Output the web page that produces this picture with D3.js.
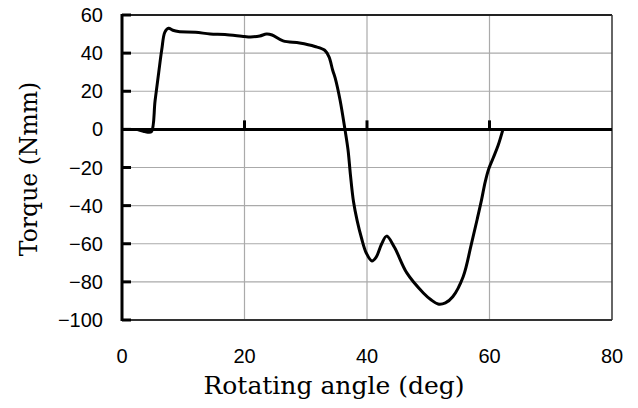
<!DOCTYPE html>
<html>
<head>
<meta charset="utf-8">
<script src="https://cdn.jsdelivr.net/npm/d3@7"></script>
<style>
  body { margin: 0; background: #fff; }
  svg { display: block; }
  .tick-label { font-family: "Liberation Sans", Arial, sans-serif; font-size: 20px; fill: #000; }
  .title { font-family: "DejaVu Serif", serif; font-size: 25px; fill: #000; }
</style>
</head>
<body>
<svg id="chart" width="638" height="408"></svg>
<script>
// torque curve
var angle = [2.4, 3.5, 4.2, 4.8, 5.4, 6.0, 6.5, 7.0, 7.6, 8.3, 9.2, 12, 14.4, 16.8, 20, 21, 22.5, 23.6, 24.5, 26.3, 29, 31.5, 33.1, 33.8, 34.4, 34.8, 35.6, 36.4, 36.9, 37.3, 37.8, 38.4, 39.1, 39.9, 40.8, 41.5, 42.4, 43.2, 44.5, 46.5, 49.2, 50.5, 51.6, 52.8, 54, 55.7, 57.0, 58.0, 58.7, 59.3, 59.9, 60.6, 61.4, 62.2];
var torque = [0, -1, -1.5, -1.2, 15, 30, 42, 51, 53, 52, 51.3, 51, 50, 49.8, 48.7, 48.5, 49, 50, 49.5, 46.4, 45.3, 43.5, 41.5, 38, 31, 27, 15.4, 0, -10.7, -24, -38, -48, -57, -65, -69, -67, -60, -56, -62, -75.3, -85.8, -89.5, -91.6, -91, -87.8, -77.3, -60.7, -47, -37, -27.5, -20.5, -15, -8.5, 0];

var xTicks = [0, 20, 40, 60, 80];
var yTicks = [60, 40, 20, 0, -20, -40, -60, -80, -100];

var svg = d3.select('#chart');
var mLeft = 122, mRight = 612, mTop = 15, mBottom = 320;

var x = d3.scaleLinear().domain([0, 80]).range([mLeft, mRight]);
var y = d3.scaleLinear().domain([-100, 60]).range([mBottom, mTop]);

// grid
svg.append('g').selectAll('line')
  .data(yTicks.filter(function(d) { return d !== 60 && d !== -100 && d !== 0; }))
  .enter().append('line')
  .attr('x1', mLeft).attr('x2', mRight)
  .attr('y1', function(d) { return y(d); }).attr('y2', function(d) { return y(d); })
  .attr('stroke', '#aaa').attr('stroke-width', 1.2);

svg.append('g').selectAll('line')
  .data([20, 40, 60])
  .enter().append('line')
  .attr('x1', function(d) { return x(d); }).attr('x2', function(d) { return x(d); })
  .attr('y1', mTop).attr('y2', mBottom)
  .attr('stroke', '#aaa').attr('stroke-width', 1.2);

// frame
svg.append('line').attr('x1', mLeft).attr('x2', mRight).attr('y1', mTop).attr('y2', mTop)
  .attr('stroke', '#222').attr('stroke-width', 2);
svg.append('line').attr('x1', mLeft).attr('x2', mRight).attr('y1', mBottom).attr('y2', mBottom)
  .attr('stroke', '#333').attr('stroke-width', 2);
svg.append('line').attr('x1', mRight).attr('x2', mRight).attr('y1', mTop).attr('y2', mBottom)
  .attr('stroke', '#333').attr('stroke-width', 1.5);

// zero axis with upward ticks
svg.append('line').attr('x1', mLeft).attr('x2', mRight).attr('y1', y(0)).attr('y2', y(0))
  .attr('stroke', '#000').attr('stroke-width', 3);
svg.append('g').selectAll('line')
  .data([20, 40, 60])
  .enter().append('line')
  .attr('x1', function(d) { return x(d); }).attr('x2', function(d) { return x(d); })
  .attr('y1', y(0)).attr('y2', y(0) - 9)
  .attr('stroke', '#000').attr('stroke-width', 3);

// left axis
svg.append('line').attr('x1', mLeft).attr('x2', mLeft).attr('y1', mTop - 1).attr('y2', mBottom + 1)
  .attr('stroke', '#000').attr('stroke-width', 3);
svg.append('g').selectAll('line')
  .data(yTicks)
  .enter().append('line')
  .attr('x1', mLeft).attr('x2', mLeft + 9)
  .attr('y1', function(d) { return y(d); }).attr('y2', function(d) { return y(d); })
  .attr('stroke', '#000').attr('stroke-width', 3);

// tick labels
svg.append('g').selectAll('text')
  .data(yTicks)
  .enter().append('text')
  .attr('class', 'tick-label')
  .attr('x', mLeft - 19)
  .attr('y', function(d) { return y(d) + 7; })
  .attr('text-anchor', 'end')
  .text(function(d) { return d < 0 ? '\u2212' + Math.abs(d) : d; });

svg.append('g').selectAll('text')
  .data(xTicks)
  .enter().append('text')
  .attr('class', 'tick-label')
  .attr('x', function(d) { return x(d); })
  .attr('y', 363)
  .attr('text-anchor', 'middle')
  .text(function(d) { return d; });

// curve
var line = d3.line()
  .x(function(d) { return x(d[0]); })
  .y(function(d) { return y(d[1]); })
  .curve(d3.curveCatmullRom.alpha(0.5));

svg.append('path')
  .datum(d3.zip(angle, torque))
  .attr('d', line)
  .attr('fill', 'none')
  .attr('stroke', '#000')
  .attr('stroke-width', 3)
  .attr('stroke-linejoin', 'round');

// titles
svg.append('text').attr('class', 'title')
  .attr('x', 334).attr('y', 394)
  .attr('text-anchor', 'middle')
  .text('Rotating angle (deg)');

svg.append('text').attr('class', 'title')
  .attr('transform', 'translate(37,169) rotate(-90)')
  .attr('text-anchor', 'middle')
  .style('font-size', '23.5px')
  .text('Torque (Nmm)');
</script>
</body>
</html>
